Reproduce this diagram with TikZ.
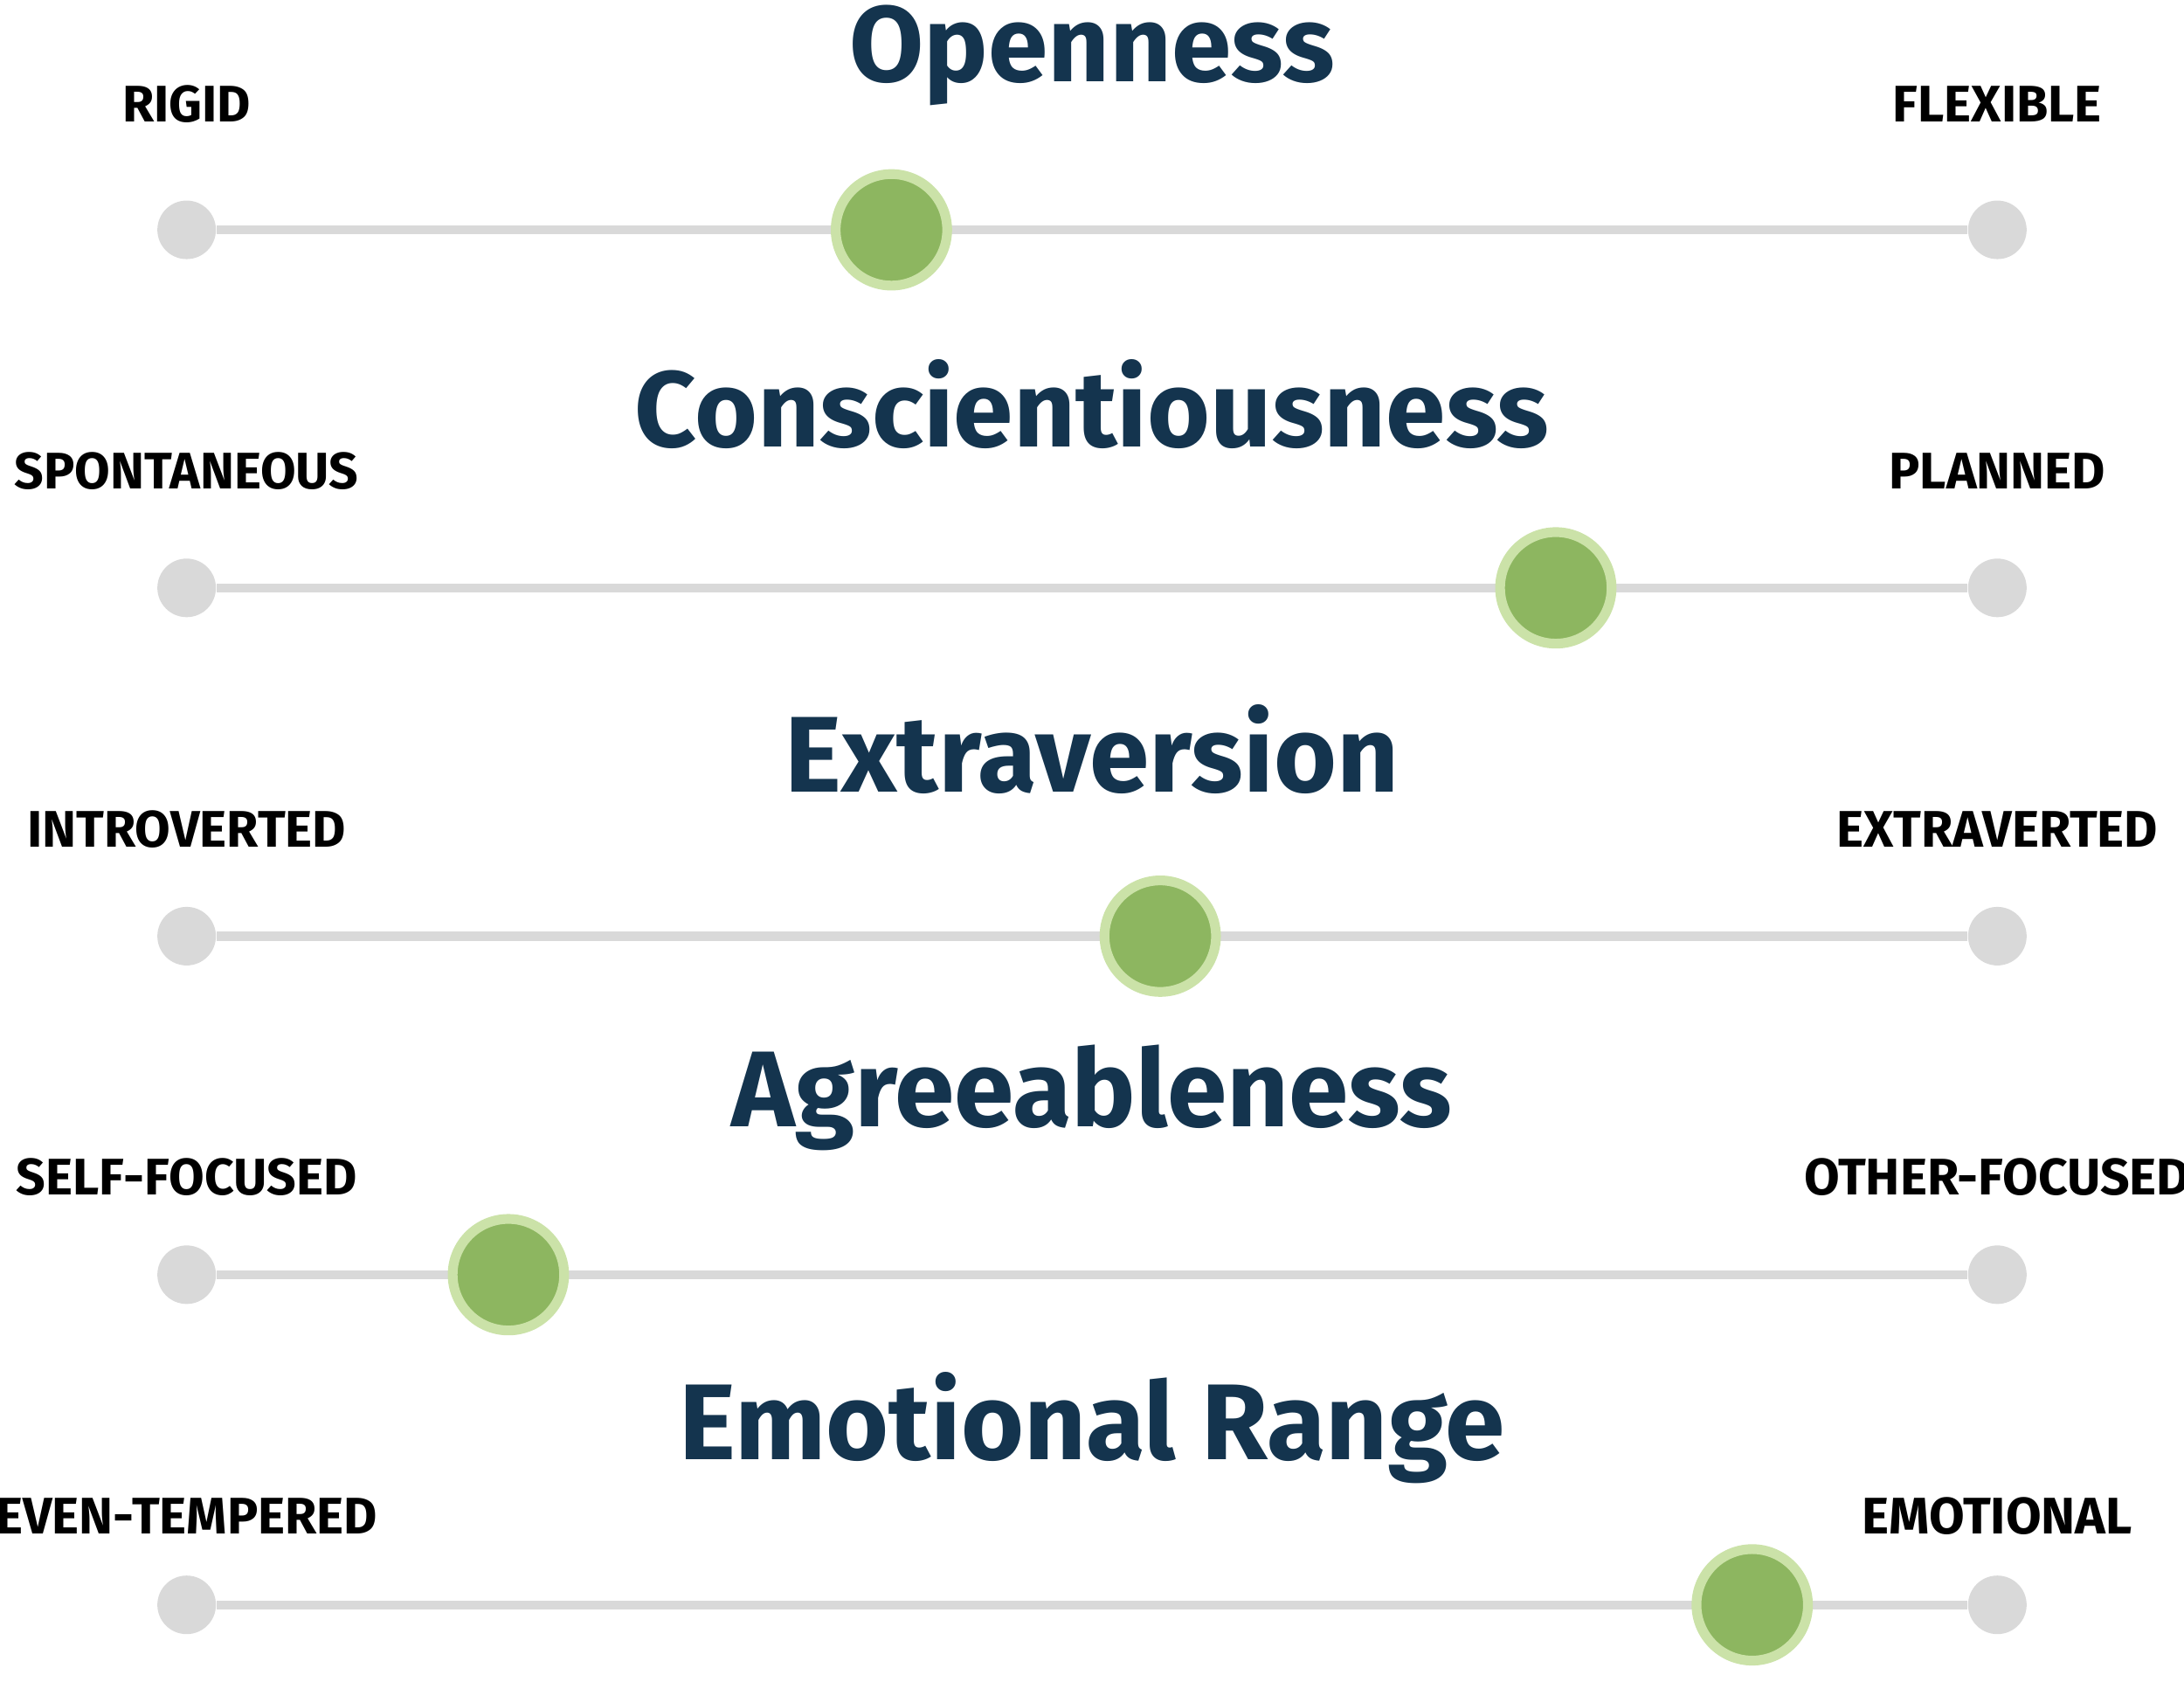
\documentclass[tikz,border=0pt]{standalone}
\usepackage{fontspec}
\setmainfont{Fira Sans}
\definecolor{navy}{HTML}{14344E}
\definecolor{track}{HTML}{D9D9D9}
\definecolor{knobgreen}{HTML}{8DB660}
\definecolor{knobring}{HTML}{CBE2A8}
\begin{document}
\begin{tikzpicture}[x=0.01cm,y=-0.01cm,
                    title node/.style={text=navy,font=\fontsize{22}{24}\selectfont\bfseries,inner sep=0pt},
                    side node/.style={text=black,font=\fontsize{10.5}{12}\selectfont\bfseries,inner sep=0pt},
                    end node/.style={circle,fill=track,minimum size=0.42cm,inner sep=0pt},
                    knob node/.style={circle,fill=knobgreen,draw=knobring,line width=0.07cm,minimum size=0.8cm,inner sep=0pt},
                    track line/.style={draw=track,line width=0.065cm}
                   ]
  \useasboundingbox (0,0) rectangle (1568,1207);
  % Openness
  \node[title node] (t1) at (784,40) {Openness};
  \node[side node] (l1) at (134,75) {RIGID};
  \node[side node] (r1) at (1434,75) {FLEXIBLE};
  \node[end node] (a1) at (134,165) {};
  \node[end node] (b1) at (1434,165) {};
  \path[track line] (a1) -- (b1);
  \node[knob node] (k1) at (640,165) {};
  % Conscientiousness
  \node[title node] (t2) at (784,290) {Conscientiousness};
  \node[side node] (l2) at (134,338) {SPONTANEOUS};
  \node[side node] (r2) at (1434,338) {PLANNED};
  \node[end node] (a2) at (134,422) {};
  \node[end node] (b2) at (1434,422) {};
  \path[track line] (a2) -- (b2);
  \node[knob node] (k2) at (1117,422) {};
  % Extraversion
  \node[title node] (t3) at (784,538) {Extraversion};
  \node[side node] (l3) at (134,595) {INTROVERTED};
  \node[side node] (r3) at (1434,595) {EXTRAVERTED};
  \node[end node] (a3) at (134,672) {};
  \node[end node] (b3) at (1434,672) {};
  \path[track line] (a3) -- (b3);
  \node[knob node] (k3) at (833,672) {};
  % Agreeableness
  \node[title node] (t4) at (784,788) {Agreeableness};
  \node[side node] (l4) at (134,845) {SELF-FOCUSED};
  \node[side node] (r4) at (1434,845) {OTHER-FOCUSED};
  \node[end node] (a4) at (134,915) {};
  \node[end node] (b4) at (1434,915) {};
  \path[track line] (a4) -- (b4);
  \node[knob node] (k4) at (365,915) {};
  % Emotional Range
  \node[title node] (t5) at (784,1025) {Emotional Range};
  \node[side node] (l5) at (134,1088) {EVEN-TEMPERED};
  \node[side node] (r5) at (1434,1088) {EMOTIONAL};
  \node[end node] (a5) at (134,1152) {};
  \node[end node] (b5) at (1434,1152) {};
  \path[track line] (a5) -- (b5);
  \node[knob node] (k5) at (1258,1152) {};
\end{tikzpicture}
\end{document}
